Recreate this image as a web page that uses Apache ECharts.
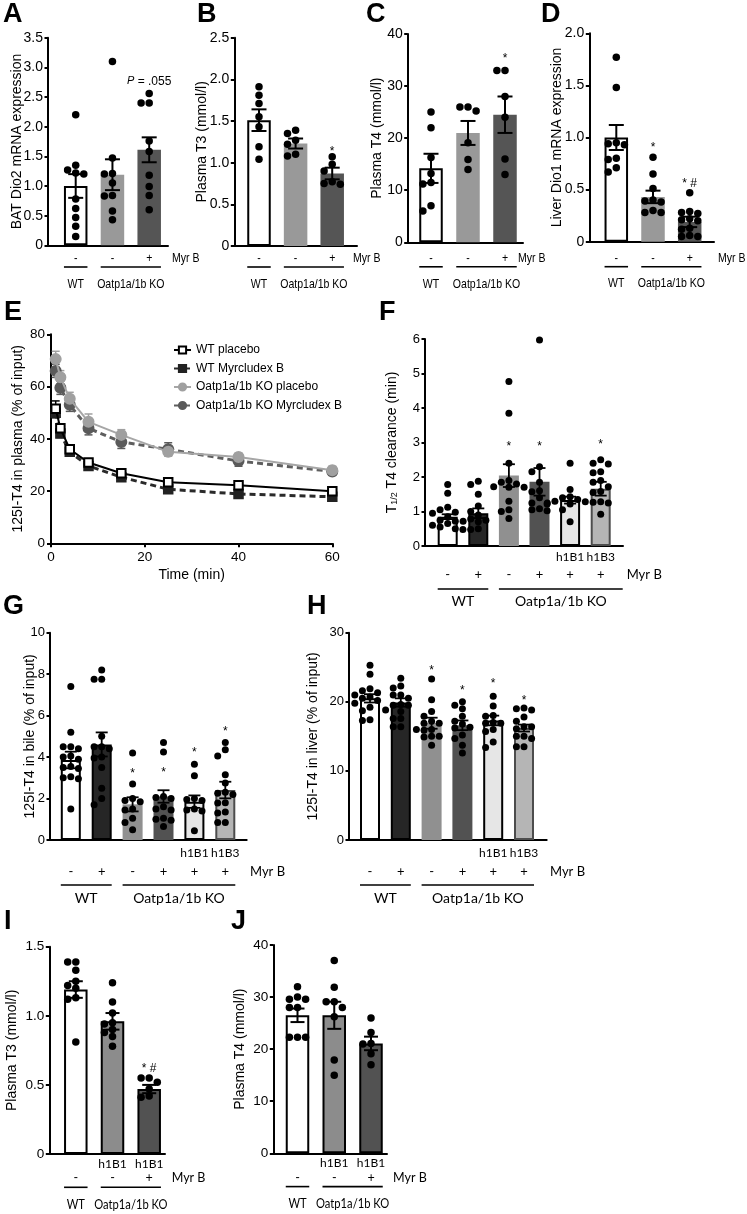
<!DOCTYPE html>
<html>
<head>
<meta charset="utf-8">
<script src="https://cdn.jsdelivr.net/npm/echarts@6/dist/echarts.min.js"></script>
<style>
html,body{margin:0;padding:0;background:#fff;}
#chart{width:747px;height:1214px;}
</style>
</head>
<body>
<div id="chart"></div>
<script>
// ================= DATA =================
const myrLabel = 'Myr B';
const groups3 = [{label: 'WT', from: 1, to: 1}, {label: 'Oatp1a/1b KO', from: 2, to: 3}];
const groups6 = [{label: 'WT', from: 1, to: 2}, {label: 'Oatp1a/1b KO', from: 3, to: 6}];
const myr3 = ['-', '-', '+'];
const myr6 = ['-', '+', '-', '+', '+', '+'];
const cell6 = ['', '', '', '', 'h1B1', 'h1B3'];
const cell3 = ['', 'h1B1', 'h1B1'];

// A: BAT Dio2 mRNA expression
const A_mean = [1.0, 1.19, 1.61];
const A_sem = [0.2, 0.26, 0.21];
const A_points = [
  [2.2, 1.35, 1.27, 1.22, 1.2, 0.78, 0.62, 0.47, 0.32, 0.15],
  [3.1, 1.47, 1.21, 1.2, 1.05, 0.83, 0.84, 0.58, 0.43],
  [2.56, 2.4, 2.4, 1.76, 1.58, 1.18, 0.99, 0.84, 0.6]
];
const A_sig = ['', '', '{i|P} = .055'];
const A_sigAt = [null, null, 2.8];

// B: Plasma T3
const B_mean = [1.51, 1.23, 0.87];
const B_sem = [0.13, 0.06, 0.07];
const B_points = [
  [1.91, 1.81, 1.71, 1.55, 1.43, 1.19, 1.04],
  [1.39, 1.35, 1.27, 1.22, 1.1, 1.08],
  [1.07, 0.98, 0.9, 0.77, 0.75, 0.74]
];
const B_sig = ['', '', '*'];
const B_sigAt = [null, null, 1.15];

// C: Plasma T4
const C_mean = [14.2, 21.0, 24.5];
const C_sem = [2.8, 2.3, 3.5];
const C_points = [
  [25, 22, 16.3, 13.2, 11.5, 11.2, 7, 6],
  [26, 26, 25.2, 19.1, 15.9, 14],
  [33, 33, 28, 24, 16, 13]
];
const C_sig = ['', '', '*'];
const C_sigAt = [null, null, 35.6];

// D: Liver Dio1 mRNA expression
const D_mean = [1.0, 0.43, 0.19];
const D_sem = [0.12, 0.06, 0.05];
const D_points = [
  [1.77, 1.48, 0.95, 0.94, 0.93, 0.8, 0.79, 0.71, 0.67],
  [0.81, 0.65, 0.51, 0.4, 0.39, 0.38, 0.3, 0.28, 0.28],
  [0.47, 0.29, 0.28, 0.27, 0.22, 0.21, 0.2, 0.13, 0.12, 0.06, 0.05, 0.05]
];
const D_sig = ['', '*', '* #'];
const D_sigAt = [null, 0.92, 0.58];

// E: 125I-T4 in plasma over time
const E_time = [1, 2, 4, 8, 15, 25, 40, 60];
const E_names = ['WT placebo', 'WT Myrcludex B', 'Oatp1a/1b KO placebo', 'Oatp1a/1b KO Myrcludex B'];
const E_wtPlacebo = [51.5, 44, 36, 30.9, 26.8, 23.4, 22.2, 19.9];
const E_wtMyr = [50, 42, 35, 29.6, 25.3, 20.7, 18.9, 17.8];
const E_koPlacebo = [70.5, 63.6, 55.3, 46.5, 41.5, 35, 33, 28];
const E_koMyr = [66, 59.5, 53, 44, 38.8, 36, 31.5, 27.5];
const E_wtPlaceboSem = [3, 1.5, 1.2, 1, 1, 1, 1, 0.8];
const E_wtMyrSem = [2, 1.5, 1, 1, 1, 0.8, 0.8, 0.6];
const E_koPlaceboSem = [3, 2.5, 2.5, 3, 2, 1.5, 1.5, 1.5];
const E_koMyrSem = [2.5, 2.5, 2.5, 2.5, 2.5, 2.5, 2, 1.5];

// F: T1/2 T4 clearance
const F_mean = [0.85, 0.95, 2.04, 1.86, 1.33, 1.66];
const F_sem = [0.07, 0.14, 0.33, 0.4, 0.1, 0.2];
const F_points = [
  [1.78, 1.53, 1.12, 1.05, 0.98, 0.95, 0.85, 0.75, 0.72, 0.65, 0.6, 0.55, 0.5, 0.48],
  [1.88, 1.78, 1.5, 1.16, 1.0, 0.9, 0.78, 0.75, 0.72, 0.7, 0.5, 0.48],
  [4.77, 3.85, 2.4, 1.9, 1.85, 1.8, 1.72, 1.7, 1.7, 1.3, 1.05, 1.0, 0.8],
  [5.97, 2.3, 2.15, 1.85, 1.6, 1.57, 1.4, 1.25, 1.22, 1.08, 1.05, 1.02],
  [2.4, 1.64, 1.43, 1.4, 1.35, 1.3, 1.28, 1.25, 1.22, 1.05, 0.7],
  [2.5, 2.4, 2.38, 2.15, 2.12, 1.9, 1.85, 1.72, 1.58, 1.55, 1.28, 1.27, 1.25, 0.92]
];
const F_sig = ['', '', '*', '*', '', '*'];
const F_sigAt = [null, null, 2.93, 2.93, null, 3.0];

// G: 125I-T4 in bile
const G_mean = [3.86, 4.61, 1.72, 2.1, 1.85, 2.41];
const G_sem = [0.4, 0.58, 0.34, 0.3, 0.3, 0.4];
const G_points = [
  [7.4, 5.2, 4.5, 4.5, 4.4, 4.05, 4.0, 3.9, 3.55, 3.5, 3.45, 3.05, 3.0, 2.95, 1.5],
  [8.2, 7.75, 7.75, 5.0, 4.5, 4.5, 4.4, 4.0, 3.95, 3.5, 2.5, 2.0, 1.7],
  [4.2, 2.7, 2.0, 1.9, 1.85, 1.5, 1.45, 1.05, 0.85, 0.5],
  [4.7, 4.25, 2.1, 2.05, 2.0, 1.6, 1.5, 1.45, 1.05, 1.0, 0.95, 0.65],
  [3.65, 3.1, 2.0, 1.95, 1.9, 1.5, 1.45, 1.4, 0.45],
  [4.7, 4.35, 4.05, 3.15, 2.75, 2.3, 2.25, 2.2, 1.8, 1.78, 1.35, 1.3, 0.85, 0.85]
];
const G_sig = ['', '', '*', '*', '*', '*'];
const G_sigAt = [null, null, 3.3, 3.33, 4.3, 5.34];

// H: 125I-T4 in liver
const H_mean = [20.5, 19.9, 16.9, 16.6, 17.3, 16.2];
const H_sem = [0.6, 0.6, 0.8, 0.7, 0.7, 0.5];
const H_points = [
  [25.3, 24.0, 21.9, 21.6, 21.3, 21.0, 20.7, 20.5, 20.2, 19.8, 19.2, 18.7, 17.4, 17.3],
  [23.4, 22.3, 22.0, 21.0, 21.0, 20.5, 19.6, 19.5, 19.5, 18.8, 18.6, 17.6, 17.6, 16.4, 16.4],
  [23.3, 20.3, 18.6, 17.9, 17.2, 16.9, 16.9, 16.0, 16.0, 15.9, 15.0, 15.0, 14.9, 13.7],
  [20.0, 19.5, 19.0, 17.9, 17.2, 16.8, 16.2, 16.3, 15.2, 14.7, 13.7, 12.6],
  [20.8, 19.4, 18.0, 17.9, 17.0, 16.9, 16.9, 16.0, 15.7, 14.2, 13.4],
  [19.1, 19.0, 18.8, 17.8, 17.2, 16.4, 16.4, 16.1, 15.0, 15.0, 14.7, 13.5, 13.5]
];
const H_sig = ['', '', '*', '*', '*', '*'];
const H_sigAt = [null, null, 24.8, 21.9, 22.9, 20.5];

// I: Plasma T3
const I_mean = [1.19, 0.96, 0.47];
const I_sem = [0.06, 0.06, 0.03];
const I_points = [
  [1.39, 1.39, 1.33, 1.25, 1.22, 1.2, 1.13, 1.12, 0.81],
  [1.24, 1.1, 1.02, 0.95, 0.94, 0.9, 0.88, 0.85, 0.78],
  [0.55, 0.55, 0.52, 0.47, 0.42, 0.41]
];
const I_sig = ['', '', '* #'];
const I_sigAt = [null, null, 0.63];

// J: Plasma T4
const J_mean = [26.5, 26.5, 21.1];
const J_sem = [1.3, 2.6, 1.3];
const J_points = [
  [32, 30, 29.6, 29.6, 28, 28, 22.3, 22.3, 22.3],
  [37, 31.9, 29.1, 29.1, 28, 26.2, 17.9, 15],
  [26, 23.2, 21.1, 21, 19.1, 17]
];

// ================= STYLE / LAYOUT =================
const FONT = '"Liberation Sans", Arial, Helvetica, sans-serif';
const HUMAN = 'Lato, "Open Sans", "Noto Sans", sans-serif';

const col3 = ['#ffffff', '#999999', '#555555'];
const bor3 = ['#000', null, null];
const col6 = ['#ffffff', '#262626', '#909090', '#525252', '#e6e6e6', '#b5b5b5'];
const bor6 = ['#000', '#000', null, null, '#000', '#4d4d4d'];
const colIJ = ['#ffffff', '#8c8c8c', '#525252'];
const borIJ = ['#000', '#000', '#000'];

const grids = [], xAxes = [], yAxes = [], series = [];

function swarm(vals, ppu, D) {
  const sorted = vals.slice().sort((a, b) => b - a);
  const placed = [];
  const order = [0, -1, 1, -2, 2, -3, 3];
  for (const v of sorted) {
    const y = v * ppu;
    let done = false;
    for (const k of order) {
      const x = k * D;
      if (placed.every(q => Math.hypot(q.x - x, q.y - y) >= D * 0.85)) {
        placed.push({x, y, v}); done = true; break;
      }
    }
    if (!done) placed.push({x: 0, y, v});
  }
  return placed;
}

function txt(x, y, text, f, align, extra) {
  const st = Object.assign({
    text: text, fill: '#000', fontSize: f.fs, fontFamily: f.ff,
    align: align || 'center', verticalAlign: 'middle',
    textAlign: align || 'center', textVerticalAlign: 'middle'
  }, extra || {});
  return {type: 'text', x: x, y: y, scaleX: f.sx || 1, style: st};
}

function addBarPanel(p) {
  const gi = grids.length;
  const width = p.right - p.left, height = p.bottom - p.top;
  grids.push({left: p.left, top: p.top, width: width, height: height});
  const xmin = 1 - (p.c1 - p.left) / p.sp;
  const xmax = xmin + width / p.sp;
  xAxes.push({
    gridIndex: gi, type: 'value', min: xmin, max: xmax,
    axisLine: {show: true, onZero: false, lineStyle: {color: '#000', width: 2}},
    axisTick: {show: false}, axisLabel: {show: false}, splitLine: {show: false}
  });
  yAxes.push({
    gridIndex: gi, type: 'value', min: 0, max: p.ymax, interval: p.yint,
    name: p.yName, nameLocation: 'middle', nameGap: p.nameGap, nameMoveOverlap: false,
    nameTextStyle: Object.assign({fontSize: 14, fontFamily: FONT, color: '#000'}, p.nameStyle || {}),
    axisLine: {show: true, onZero: false, lineStyle: {color: '#000', width: 2}},
    axisTick: {show: true, length: 3.5, lineStyle: {color: '#000', width: 2}},
    axisLabel: {fontSize: p.tickFs, color: '#000', margin: 5, fontFamily: FONT,
      formatter: v => v === 0 ? '0' : (p.dec ? v.toFixed(p.dec) : String(Math.round(v)))},
    splitLine: {show: false}
  });
  const n = p.mean.length;
  series.push({
    type: 'bar', xAxisIndex: gi, yAxisIndex: gi, barWidth: p.bw, z: 2, silent: true,
    data: p.mean.map((m, i) => ({
      value: [i + 1, m],
      itemStyle: {color: p.colors[i], borderColor: p.borders[i] || p.colors[i], borderWidth: p.borders[i] ? 2 : 0}
    }))
  });
  series.push({
    type: 'custom', xAxisIndex: gi, yAxisIndex: gi, z: 3, silent: true, clip: false,
    data: p.mean.map((m, i) => [i + 1, m, p.sem[i]]),
    renderItem: (params, api) => {
      const x = api.value(0), m = api.value(1), s = api.value(2);
      const top = api.coord([x, m + s]), bot = api.coord([x, Math.max(0, m - s)]);
      const cw = p.cap / 2;
      const ls = {stroke: '#000', lineWidth: p.ew};
      return {type: 'group', children: [
        {type: 'line', shape: {x1: top[0], y1: top[1], x2: bot[0], y2: bot[1]}, style: ls},
        {type: 'line', shape: {x1: top[0] - cw, y1: top[1], x2: top[0] + cw, y2: top[1]}, style: ls},
        {type: 'line', shape: {x1: bot[0] - cw, y1: bot[1], x2: bot[0] + cw, y2: bot[1]}, style: ls}
      ]};
    }
  });
  const ppu = height / p.ymax;
  const pts = [];
  p.points.forEach((arr, i) => {
    swarm(arr, ppu, p.dot + 0.6).forEach(q => pts.push([i + 1 + q.x / p.sp, q.v]));
  });
  series.push({
    type: 'scatter', xAxisIndex: gi, yAxisIndex: gi, z: 4, silent: true,
    symbol: 'circle', symbolSize: p.dot, itemStyle: {color: '#000', opacity: 1}, data: pts
  });
  series.push({
    type: 'custom', xAxisIndex: gi, yAxisIndex: gi, z: 5, silent: true, clip: false,
    data: [[1, 0]],
    renderItem: (params, api) => {
      const ch = [];
      const y0 = api.coord([1, 0])[1];
      const xr = api.coord([xmax, 0])[0];
      for (let i = 0; i < n; i++) {
        const cx = api.coord([i + 1, 0])[0];
        ch.push(txt(cx, y0 + p.off.myr, p.myr[i], p.fSign));
        if (p.cell && p.cell[i]) ch.push(txt(cx, y0 + p.off.cell, p.cell[i], p.fCell));
        if (p.sig && p.sig[i]) {
          const c = api.coord([i + 1, p.sigAt[i]]);
          ch.push(txt(c[0], c[1] + 2, p.sig[i], {ff: FONT, fs: 12}, 'center',
            {rich: {i: {fontStyle: 'italic', fontSize: 11, fontFamily: FONT}}}));
        }
      }
      ch.push(txt(xr + p.off.myrX, y0 + p.off.myr, myrLabel, p.fSign, 'left'));
      p.groups.forEach(g => {
        const a = api.coord([g.from, 0])[0] - p.bw / 2;
        const b = api.coord([g.to, 0])[0] + p.bw / 2 + (g.to === n ? (p.extR || 0) : 0);
        const ly = y0 + p.off.line;
        ch.push({type: 'line', shape: {x1: a, y1: ly, x2: b, y2: ly}, style: {stroke: '#000', lineWidth: 1.6}});
        ch.push(txt((a + b) / 2, y0 + p.off.label, g.label, p.fGroup));
      });
      return {type: 'group', children: ch};
    }
  });
}

// ---- panels A-D ----
const fTop = {ff: FONT, fs: 13.5, sx: 0.78};
const topRowCommon = {bw: 23.5, cap: 15, dot: 7.5, ew: 2, tickFs: 14, colors: col3, borders: bor3,
  myr: myr3, groups: groups3, fSign: fTop, fGroup: fTop};
addBarPanel(Object.assign({}, topRowCommon, {
  left: 48, top: 37.7, bottom: 245.3, right: 168, c1: 75.7, sp: 36.75, ymax: 3.5, yint: 0.5, dec: 1,
  yName: 'BAT Dio2 mRNA expression', nameGap: 23.5,
  mean: A_mean, sem: A_sem, points: A_points, sig: A_sig, sigAt: A_sigAt,
  off: {myr: 12.7, line: 21.7, label: 38.7, myrX: 4}
}));
addBarPanel(Object.assign({}, topRowCommon, {
  left: 234.3, top: 37.7, bottom: 246, right: 357, c1: 259, sp: 36.6, ymax: 2.5, yint: 0.5, dec: 1,
  yName: 'Plasma T3 (mmol/l)', nameGap: 25,
  mean: B_mean, sem: B_sem, points: B_points, sig: B_sig, sigAt: B_sigAt,
  off: {myr: 12, line: 21, label: 38, myrX: -4}
}));
addBarPanel(Object.assign({}, topRowCommon, {
  left: 407.7, top: 34, bottom: 242.3, right: 523, c1: 431, sp: 37, ymax: 40, yint: 10, dec: 0,
  yName: 'Plasma T4 (mmol/l)', nameGap: 24,
  mean: C_mean, sem: C_sem, points: C_points, sig: C_sig, sigAt: C_sigAt,
  off: {myr: 16, line: 24.5, label: 42, myrX: -5}
}));
addBarPanel(Object.assign({}, topRowCommon, {
  left: 589.3, top: 33.3, bottom: 241.7, right: 714, c1: 616.3, sp: 36.7, ymax: 2, yint: 0.5, dec: 1,
  yName: 'Liver Dio1 mRNA expression', nameGap: 25,
  mean: D_mean, sem: D_sem, points: D_points, sig: D_sig, sigAt: D_sigAt,
  off: {myr: 16.3, line: 25, label: 42, myrX: 4}
}));

// ---- panels F, G, H ----
const sixCommon = {bw: 20, cap: 12, dot: 7, ew: 1.8, tickFs: 13, colors: col6, borders: bor6,
  myr: myr6, cell: cell6, groups: groups6,
  fSign: {ff: HUMAN, fs: 13}, fCell: {ff: HUMAN, fs: 12}, fGroup: {ff: HUMAN, fs: 14}};
addBarPanel(Object.assign({}, sixCommon, {
  left: 425, top: 339, bottom: 546, right: 623, c1: 447.7, sp: 30.6, ymax: 6, yint: 1, dec: 0,
  yName: 'T{s|1/2} T4 clearance (min)', nameGap: 26,
  nameStyle: {rich: {s: {fontSize: 9, fontFamily: FONT, verticalAlign: 'bottom', padding: [4, 0, 0, 0]}}},
  mean: F_mean, sem: F_sem, points: F_points, sig: F_sig, sigAt: F_sigAt, extR: 12,
  off: {cell: 10.7, myr: 29, line: 43, label: 55.7, myrX: 3.7}
}));
addBarPanel(Object.assign({}, sixCommon, {
  left: 50, top: 632.7, bottom: 840, right: 246.7, c1: 70.8, sp: 30.9, ymax: 10, yint: 2, dec: 0,
  yName: '125I-T4 in bile (% of input)', nameGap: 13,
  mean: G_mean, sem: G_sem, points: G_points, sig: G_sig, sigAt: G_sigAt,
  off: {cell: 12.7, myr: 31.7, line: 45, label: 58, myrX: 3.3}
}));
addBarPanel(Object.assign({}, sixCommon, {
  left: 349, top: 632.7, bottom: 840, right: 546.7, c1: 370, sp: 30.8, ymax: 30, yint: 10, dec: 0,
  yName: '125I-T4 in liver (% of input)', nameGap: 29,
  mean: H_mean, sem: H_sem, points: H_points, sig: H_sig, sigAt: H_sigAt,
  off: {cell: 12.7, myr: 31.7, line: 45, label: 58, myrX: 3.3}
}));

// ---- panels I, J ----
const ijCommon = {bw: 23.5, cap: 14, dot: 7.5, ew: 2, tickFs: 13.5, colors: colIJ, borders: borIJ,
  myr: myr3, cell: cell3, groups: groups3,
  fSign: {ff: HUMAN, fs: 12.5}, fCell: {ff: HUMAN, fs: 12}, fGroup: {ff: HUMAN, fs: 14, sx: 0.8}};
addBarPanel(Object.assign({}, ijCommon, {
  left: 49.3, top: 946.7, bottom: 1154, right: 165, c1: 75.8, sp: 36.7, ymax: 1.5, yint: 0.5, dec: 1,
  yName: 'Plasma T3 (mmol/l)', nameGap: 30,
  mean: I_mean, sem: I_sem, points: I_points, sig: I_sig, sigAt: I_sigAt,
  off: {cell: 10.3, myr: 24.3, line: 33.3, label: 50, myrX: 6.7}
}));
addBarPanel(Object.assign({}, ijCommon, {
  left: 273.3, top: 945, bottom: 1153.3, right: 387, c1: 297.5, sp: 36.75, ymax: 40, yint: 10, dec: 0,
  yName: 'Plasma T4 (mmol/l)', nameGap: 26,
  mean: J_mean, sem: J_sem, points: J_points, sig: null, sigAt: null,
  off: {cell: 10.3, myr: 24.3, line: 33.3, label: 50, myrX: 6}
}));

// ---- panel E (time course) ----
const gE = grids.length;
grids.push({left: 51, top: 334.3, width: 281.3, height: 209});
xAxes.push({
  gridIndex: gE, type: 'value', min: 0, max: 60, interval: 20,
  name: 'Time (min)', nameLocation: 'middle', nameGap: 25, nameMoveOverlap: false,
  nameTextStyle: {fontSize: 14, fontFamily: FONT, color: '#000'},
  axisLine: {show: true, onZero: false, lineStyle: {color: '#000', width: 2}},
  axisTick: {show: true, length: 4, lineStyle: {color: '#000', width: 2}},
  axisLabel: {fontSize: 13.5, color: '#000', margin: 7, fontFamily: FONT},
  splitLine: {show: false}
});
yAxes.push({
  gridIndex: gE, type: 'value', min: 0, max: 80, interval: 20,
  name: '125I-T4 in plasma (% of input)', nameLocation: 'middle', nameGap: 26, nameMoveOverlap: false,
  nameTextStyle: {fontSize: 14, fontFamily: FONT, color: '#000'},
  axisLine: {show: true, onZero: false, lineStyle: {color: '#000', width: 2}},
  axisTick: {show: true, length: 4, lineStyle: {color: '#000', width: 2}},
  axisLabel: {fontSize: 13.5, color: '#000', margin: 6, fontFamily: FONT},
  splitLine: {show: false}
});
const E_data = [E_wtPlacebo, E_wtMyr, E_koPlacebo, E_koMyr];
const E_sems = [E_wtPlaceboSem, E_wtMyrSem, E_koPlaceboSem, E_koMyrSem];
const E_styles = [
  {line: {color: '#000', width: 2, type: 'solid'}, symbol: 'rect', size: 8.5, fill: '#fff', stroke: '#000', z: 13},
  {line: {color: '#2a2a2a', width: 3, type: [6, 4]}, symbol: 'rect', size: 8.5, fill: '#222', stroke: '#222', z: 12},
  {line: {color: '#a6a6a6', width: 2, type: 'solid'}, symbol: 'circle', size: 10, fill: '#a0a0a0', stroke: '#a0a0a0', z: 11},
  {line: {color: '#5e5e5e', width: 3, type: [6, 4]}, symbol: 'circle', size: 10, fill: '#5a5a5a', stroke: '#5a5a5a', z: 10}
];
E_data.forEach((d, k) => {
  const st = E_styles[k];
  series.push({
    type: 'custom', xAxisIndex: gE, yAxisIndex: gE, z: st.z - 5, silent: true, clip: false,
    data: E_time.map((t, i) => [t, d[i], E_sems[k][i]]),
    renderItem: (params, api) => {
      const x = api.value(0), m = api.value(1), s = api.value(2);
      const top = api.coord([x, m + s]), bot = api.coord([x, m - s]);
      const ls = {stroke: st.stroke, lineWidth: 1.5};
      return {type: 'group', children: [
        {type: 'line', shape: {x1: top[0], y1: top[1], x2: bot[0], y2: bot[1]}, style: ls},
        {type: 'line', shape: {x1: top[0] - 4, y1: top[1], x2: top[0] + 4, y2: top[1]}, style: ls},
        {type: 'line', shape: {x1: bot[0] - 4, y1: bot[1], x2: bot[0] + 4, y2: bot[1]}, style: ls}
      ]};
    }
  });
  series.push({
    type: 'line', name: E_names[k], xAxisIndex: gE, yAxisIndex: gE, z: st.z,
    data: E_time.map((t, i) => [t, d[i]]),
    symbol: st.symbol, symbolSize: st.size, showAllSymbol: true,
    lineStyle: {color: st.line.color, width: st.line.width, type: st.line.type},
    itemStyle: {color: st.fill, borderColor: st.stroke, borderWidth: 2}
  });
});

// ---- panel letters ----
const letters = [
  ['A', 3, 15], ['B', 197, 15], ['C', 366, 15], ['D', 541, 15],
  ['E', 4, 313], ['F', 379, 313], ['G', 3, 607], ['H', 307, 607],
  ['I', 4, 922], ['J', 231, 922]
];
const graphic = letters.map(([t, x, y]) => ({
  type: 'text', x: x, y: y, silent: true,
  style: {text: t, fill: '#000', font: 'bold 27px "Liberation Sans", Arial, sans-serif',
    verticalAlign: 'middle', textVerticalAlign: 'middle'}
}));

const chart = echarts.init(document.getElementById('chart'), null, {renderer: 'canvas', width: 747, height: 1214});
chart.setOption({
  animation: false,
  backgroundColor: '#fff',
  textStyle: {fontFamily: FONT},
  grid: grids,
  xAxis: xAxes,
  yAxis: yAxes,
  legend: {
    orient: 'vertical', left: 168, top: 339, itemWidth: 17, itemHeight: 9, itemGap: 6.5,
    textStyle: {fontSize: 12, fontFamily: FONT, color: '#000', lineHeight: 12},
    data: E_names
  },
  graphic: graphic,
  series: series
});
</script>
</body>
</html>
